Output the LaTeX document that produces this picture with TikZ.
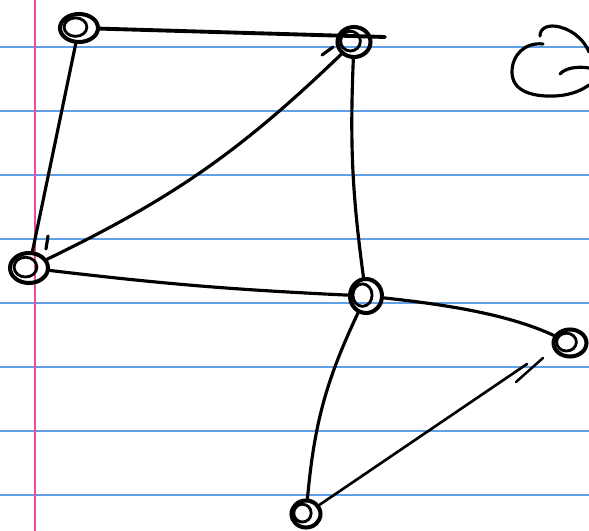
\documentclass[tikz,border=0pt]{standalone}
\definecolor{ruleblue}{RGB}{95,160,230}
\definecolor{marginpink}{RGB}{240,75,155}
\usepackage{tikz}
\usetikzlibrary{shapes.geometric}

\tikzset{
    knot/.style 2 args={draw, ellipse, line width=2.3pt, minimum width=#1, minimum height=#2, inner sep=0pt,
        path picture={\draw[line width=1.6pt] (path picture bounding box.center) ++(-2pt,0.5pt) ellipse (0.3*#1 and 0.33*#2);}},
    stroke/.style={line width=1.8pt, line cap=round}
}

\begin{document}
\begin{tikzpicture}[x=0.02cm, y=-0.02cm]
    \useasboundingbox (0,0) rectangle (589,531);
    \fill[white] (0,0) rectangle (589,531);
    % ruled paper
    \foreach \y in {47,111,175,239,303,367,431,495}
        \draw[ruleblue, line width=1pt] (0,\y) -- (589,\y);
    \draw[marginpink, line width=1.2pt] (35,0) -- (35,531);

    \node[knot={0.76cm}{0.56cm}] (a) at (79,28) {};
    \node[knot={0.66cm}{0.6cm}] (b) at (354,42) {};
    \node[knot={0.76cm}{0.6cm}] (c) at (29,268) {};
    \node[knot={0.64cm}{0.68cm}] (d) at (366,296) {};
    \node[knot={0.66cm}{0.54cm}] (e) at (570,343) {};
    \node[knot={0.58cm}{0.54cm}] (f) at (306,514) {};
    \coordinate (over) at (385,37);
    \coordinate (tick) at (527,364);

    \draw[stroke, line width=2.2pt] (a) -- (over);
    \draw[stroke] (a) -- (c);
    \draw[stroke] (b) to[bend left=9] (c);
    \draw[stroke] (b) to[bend right=5] (d);
    \draw[stroke] (c) to[bend right=2] (d);
    \draw[stroke] (d) .. controls (450,305) and (510,315) .. (e);
    \draw[stroke] (d) to[bend right=10] (f);
    \draw[stroke, line width=1.5pt] (f) -- (tick);
    % stray pen marks
    \draw[stroke, line width=1.4pt] (516,382) -- (543,358);
    \draw[stroke] (322,55) -- (333,47);
    \draw[stroke] (48,236) -- (46,249);

    % curl in the corner
    \draw[stroke] (540,36) .. controls (540,28) and (548,24) .. (560,27)
        .. controls (575,31) and (585,42) .. (589,52);
    \draw[stroke] (543,44) .. controls (525,42) and (512,55) .. (512,72)
        .. controls (512,90) and (530,97) .. (555,96)
        .. controls (572,95) and (582,90) .. (589,85);
    \draw[stroke] (560,74) .. controls (565,68) and (578,66) .. (589,68);
\end{tikzpicture}
\end{document}
